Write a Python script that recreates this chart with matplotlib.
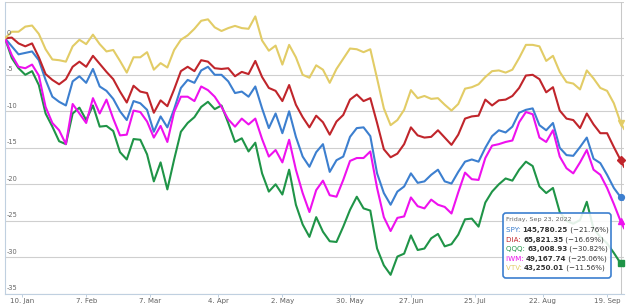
import matplotlib
matplotlib.use('Agg')
import matplotlib.pyplot as plt
import pandas as pd
from matplotlib.patches import FancyBboxPatch
from matplotlib.transforms import IdentityTransform

# trading sessions 3 Jan - 26 Sep 2022 (NYSE holidays removed)
holidays = ['2022-01-17', '2022-02-21', '2022-04-15', '2022-05-30',
            '2022-06-20', '2022-07-04', '2022-09-05']
sessions = pd.bdate_range('2022-01-03', '2022-09-26', freq='C', holidays=holidays)

# values read every second session, plus the last two sessions
sample_pos = list(range(0, 181, 2)) + [182, 183]
hover_pos = 182  # Friday, Sep 23, 2022

spy = [0.0, -1.1, -2.2, -2.0, -1.8, -3.0, -5.7, -8.0, -8.7, -9.2,
       -5.9, -5.2, -6.1, -4.2, -6.6, -7.2, -8.3, -10.0, -11.2, -8.6,
       -8.9, -9.8, -12.8, -10.7, -12.2, -9.7, -6.8, -5.7, -6.1, -4.4,
       -3.9, -5.0, -5.0, -5.9, -7.5, -7.3, -8.0, -6.6, -9.6, -12.3,
       -10.3, -13.0, -10.0, -13.5, -16.2, -17.6, -15.6, -14.5, -18.3, -16.7,
       -16.2, -13.5, -12.3, -12.2, -13.4, -18.5, -21.2, -22.8, -21.0, -20.3,
       -18.5, -19.8, -19.6, -18.7, -18.0, -19.6, -19.9, -18.3, -16.9, -16.6,
       -16.9, -15.0, -13.4, -12.6, -12.9, -12.1, -10.2, -9.8, -9.6, -11.9,
       -12.6, -11.6, -15.0, -16.0, -16.1, -14.9, -13.6, -16.5, -17.1, -18.7,
       -20.5, -21.76, -22.1]

dia = [0.0, 0.1, -0.7, -1.1, -0.7, -2.6, -4.9, -5.7, -6.3, -5.6,
       -3.9, -3.2, -3.9, -2.4, -3.5, -4.6, -5.6, -7.3, -8.8, -6.5,
       -7.3, -7.5, -10.2, -8.5, -9.3, -7.0, -4.5, -3.9, -4.5, -3.0,
       -3.2, -4.1, -4.2, -4.1, -5.2, -4.6, -4.9, -3.1, -5.3, -6.8,
       -7.2, -8.6, -6.4, -9.1, -10.8, -12.2, -10.6, -11.5, -13.2, -11.4,
       -10.5, -8.4, -7.7, -8.6, -8.2, -11.6, -15.2, -16.3, -15.8, -14.5,
       -12.2, -13.3, -13.6, -13.5, -12.6, -13.6, -14.6, -13.2, -11.0, -10.7,
       -10.6, -8.4, -9.2, -8.5, -8.4, -7.9, -6.8, -5.1, -5.0, -5.6,
       -7.4, -6.7, -9.9, -11.0, -11.2, -12.3, -10.3, -11.8, -13.0, -13.0,
       -14.9, -16.69, -17.6]

qqq = [0.0, -2.7, -4.1, -5.0, -4.5, -6.4, -10.3, -12.1, -14.1, -14.5,
       -10.3, -9.5, -11.2, -9.2, -12.1, -12.0, -12.7, -15.6, -16.6, -13.8,
       -13.9, -15.9, -19.6, -17.0, -20.7, -16.6, -12.8, -11.6, -10.8, -9.4,
       -8.7, -9.7, -9.2, -11.6, -14.2, -13.7, -15.5, -14.3, -18.5, -21.0,
       -20.0, -21.4, -18.0, -22.8, -25.5, -27.2, -24.5, -26.5, -27.8, -27.9,
       -25.8, -23.5, -21.7, -23.3, -23.6, -28.8, -31.1, -32.4, -29.9, -29.5,
       -27.0, -29.0, -28.8, -27.4, -26.8, -28.5, -28.2, -26.9, -24.8, -24.7,
       -25.8, -22.5, -21.0, -20.0, -19.2, -19.5, -18.0, -16.9, -17.5, -20.3,
       -21.2, -20.5, -23.8, -25.0, -25.4, -24.9, -22.4, -26.1, -27.2, -28.1,
       -29.4, -30.82, -31.2]

iwm = [0.0, -2.3, -3.9, -4.1, -3.6, -5.1, -9.4, -11.6, -12.6, -14.5,
       -9.0, -10.3, -11.6, -8.2, -10.3, -8.4, -11.0, -13.3, -13.2, -9.9,
       -10.1, -11.4, -13.6, -12.0, -14.2, -10.1, -8.0, -8.0, -8.6, -6.6,
       -7.1, -8.0, -9.4, -11.1, -12.1, -11.0, -11.8, -11.0, -13.8, -16.2,
       -15.3, -17.0, -13.9, -18.0, -21.2, -23.8, -20.8, -19.5, -21.5, -21.7,
       -19.4, -16.8, -16.4, -16.4, -15.5, -20.5, -24.5, -26.4, -24.6, -24.4,
       -21.8, -23.0, -23.3, -22.1, -22.8, -23.1, -24.0, -21.1, -18.4, -19.3,
       -19.4, -16.4, -14.7, -14.5, -14.2, -14.0, -11.5, -10.1, -10.4, -13.6,
       -14.2, -12.6, -16.2, -17.8, -18.5, -17.0, -15.3, -18.0, -18.7, -20.5,
       -22.7, -25.06, -26.0]

vtv = [0.0, 0.9, 0.9, 1.6, 1.75, 0.6, -1.5, -2.9, -3.0, -3.2,
       -1.1, -0.2, -0.8, 0.5, -0.8, -1.8, -1.6, -3.1, -4.7, -2.6,
       -2.6, -1.9, -4.3, -3.4, -4.0, -1.6, -0.2, 0.4, 1.3, 2.4,
       2.6, 1.5, 1.0, 1.4, 1.7, 1.4, 1.3, 3.0, -0.3, -1.7,
       -1.0, -3.6, -0.9, -2.6, -5.0, -5.4, -3.7, -4.3, -6.1, -4.2,
       -2.8, -1.4, -1.5, -1.9, -1.5, -5.5, -9.6, -11.9, -11.2, -9.8,
       -7.1, -8.2, -7.9, -8.3, -8.2, -9.1, -9.9, -9.0, -6.9, -6.7,
       -6.3, -5.3, -4.5, -4.4, -4.7, -4.3, -2.7, -0.9, -0.9, -1.1,
       -3.1, -2.4, -4.6, -6.0, -6.2, -7.0, -4.4, -5.5, -6.8, -7.2,
       -8.9, -11.56, -12.4]

names = ['SPY', 'DIA', 'QQQ', 'IWM', 'VTV']
series = [spy, dia, qqq, iwm, vtv]
prices = ['145,780.25', '65,821.35', '63,008.93', '49,167.74', '43,250.01']
colors = ['#3c7fcf', '#c0252b', '#1f9447', '#ee11ee', '#e2cc66']
markers = ['o', 'D', 's', '^', 'v']

tick_dates = ['2022-01-10', '2022-02-07', '2022-03-07', '2022-04-04', '2022-05-02',
              '2022-05-30', '2022-06-27', '2022-07-25', '2022-08-22', '2022-09-19']
tick_labels = ['10. Jan', '7. Feb', '7. Mar', '4. Apr', '2. May',
               '30. May', '27. Jun', '25. Jul', '22. Aug', '19. Sep']

W, H = 630, 306
fig = plt.figure(figsize=(W / 100, H / 100), dpi=100)
ax = fig.add_axes([5 / W, 12.2 / H, 619 / W, 292 / H])

ax.set_xlim(0, len(sessions) - 1)
ax.set_ylim(-35, 5)

ax.axvline(hover_pos, color='#c8c8c8', lw=0.75, zorder=1)

k = sample_pos.index(hover_pos)
for name, vals, col, mk in zip(names, series, colors, markers):
    ax.plot(sample_pos, vals, color=col, lw=1.5, zorder=3)
    ax.plot(hover_pos, vals[k], marker=mk, ms=4.2, color=col,
            markeredgecolor=col, zorder=4, clip_on=False)

ax.set_yticks(range(-35, 6, 5))
ax.set_yticklabels([])
ax.tick_params(axis='y', length=0)
ax.yaxis.grid(True, color='#cfcfcf', lw=0.8)
ax.set_axisbelow(True)
for v in range(-35, 1, 5):
    ax.text(2 / 619, v + 0.35, str(v), transform=ax.get_yaxis_transform(),
            fontsize=4.8, color='#666666', ha='left', va='bottom')

pos = sessions.searchsorted(pd.to_datetime(tick_dates))
ax.set_xticks(pos)
ax.set_xticklabels(tick_labels)
ax.tick_params(axis='x', length=2.2, width=0.7, color='#c0d0e0',
               labelcolor='#606060', labelsize=5.0, pad=0.5)

for s in ['top', 'right']:
    ax.spines[s].set_visible(False)
for s in ['left', 'bottom']:
    ax.spines[s].set_color('#c0d0e0')
    ax.spines[s].set_linewidth(0.8)

# shared tooltip, drawn in pixel coordinates on top of the lines
box = FancyBboxPatch((503, H - 278), 108, 65, boxstyle='round,pad=0,rounding_size=3',
                     transform=IdentityTransform(), facecolor=(1, 1, 1, 0.88),
                     edgecolor=colors[0], lw=1.2, zorder=10, clip_on=False)
ax.add_patch(box)

fs = 5.1
ax.text(506, H - 220, 'Friday, Sep 23, 2022', transform=IdentityTransform(),
        fontsize=4.6, color='#666666', ha='left', va='center', zorder=11)
for j, (name, vals, col, price) in enumerate(zip(names, series, colors, prices)):
    y = H - (230.3 + j * 9.5)
    t1 = ax.text(506, y, name + ': ', transform=IdentityTransform(), fontsize=fs,
                 color=col, ha='left', va='center', zorder=11)
    t2 = ax.annotate(price, xy=(1, 0), xycoords=t1, xytext=(0, 0),
                     textcoords='offset points', fontsize=fs, fontweight='bold',
                     color='#333333', ha='left', va='bottom', zorder=11,
                     annotation_clip=False)
    ax.annotate(' (\u2212%.2f%%)' % abs(vals[k]), xy=(1, 0), xycoords=t2,
                xytext=(0, 0), textcoords='offset points', fontsize=fs,
                color='#333333', ha='left', va='bottom', zorder=11,
                annotation_clip=False)

fig.savefig('out.png', dpi=100)
